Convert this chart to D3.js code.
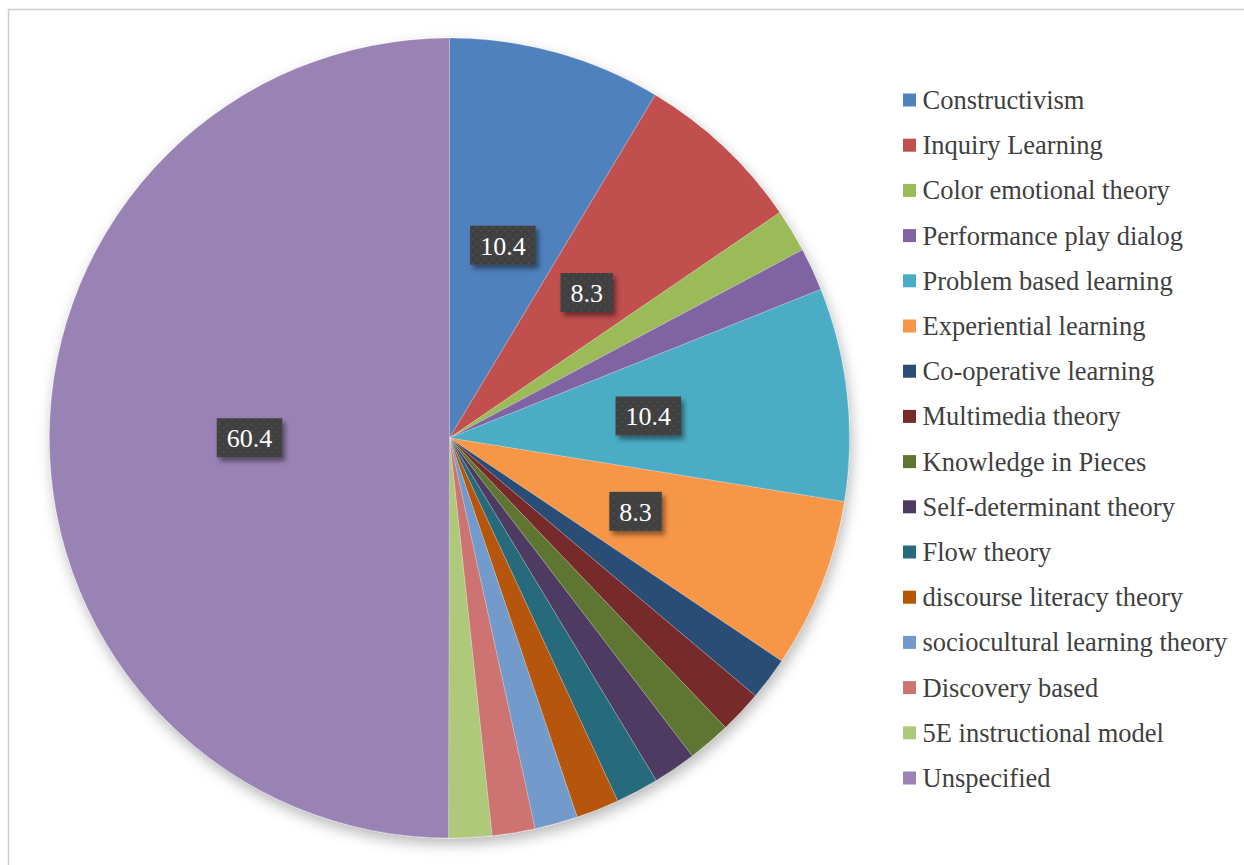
<!DOCTYPE html>
<html>
<head>
<meta charset="utf-8">
<script src="https://cdn.jsdelivr.net/npm/d3@7"></script>
<style>
  html, body { margin: 0; padding: 0; background: #ffffff; }
  svg { display: block; }
</style>
</head>
<body>
<svg id="chart" width="1244" height="865"></svg>
<script>
// Share of studies by underlying learning theory
const categories = [
  "Constructivism", "Inquiry Learning", "Color emotional theory", "Performance play dialog",
  "Problem based learning", "Experiential learning", "Co-operative learning", "Multimedia theory",
  "Knowledge in Pieces", "Self-determinant theory", "Flow theory", "discourse literacy theory",
  "sociocultural learning theory", "Discovery based", "5E instructional model", "Unspecified"
];
const values = [10.4, 8.3, 2.1, 2.1, 10.4, 8.3, 2.1, 2.1, 2.1, 2.1, 2.1, 2.1, 2.1, 2.1, 2.1, 60.4];
// Slices that carry a value label
const labelled = ["Constructivism", "Inquiry Learning", "Problem based learning", "Experiential learning", "Unspecified"];
const palette = [
  "#4F81BD", "#C0504D", "#9BBB59", "#8064A2", "#4BACC6", "#F79646",
  "#2C4D75", "#772C2A", "#5F7530", "#4D3B62", "#276A7C", "#B65708",
  "#729ACA", "#CD7371", "#AFC97A", "#9983B5"
];

const FONT = "Liberation Serif";

const svg = d3.select("#chart");
const W = 1244, H = 865;
const cx = 449.5, cy = 438, R = 400;

const defs = svg.append("defs");
// soft shadow under the pie
const pieShadow = defs.append("filter").attr("id", "pieShadow")
  .attr("x", "-10%").attr("y", "-10%").attr("width", "120%").attr("height", "125%");
pieShadow.append("feDropShadow")
  .attr("dx", 2).attr("dy", 6).attr("stdDeviation", 7)
  .attr("flood-color", "#000").attr("flood-opacity", 0.28);

// shadow for the value boxes
const boxShadow = defs.append("filter").attr("id", "boxShadow")
  .attr("x", "-30%").attr("y", "-30%").attr("width", "170%").attr("height", "180%");
boxShadow.append("feDropShadow")
  .attr("dx", 3).attr("dy", 4).attr("stdDeviation", 2.5)
  .attr("flood-color", "#000").attr("flood-opacity", 0.45);

// dotted texture of the value boxes
const pat = defs.append("pattern").attr("id", "dots")
  .attr("patternUnits", "userSpaceOnUse").attr("width", 8).attr("height", 8);
pat.append("rect").attr("width", 8).attr("height", 8).attr("fill", "#404040");
pat.append("circle").attr("cx", 2).attr("cy", 2).attr("r", 1.1).attr("fill", "#4e4e4e");
pat.append("circle").attr("cx", 6).attr("cy", 6).attr("r", 1.1).attr("fill", "#4a4a4a");

// chart frame
svg.append("rect")
  .attr("x", 8.5).attr("y", 9.5).attr("width", W + 20).attr("height", H + 20)
  .attr("fill", "#ffffff").attr("stroke", "#cfcfcf").attr("stroke-width", 1.5);

const data = categories.map((c, i) => ({ name: c, value: values[i] }));
const color = d3.scaleOrdinal().domain(categories).range(palette);

const pie = d3.pie().sort(null).value(d => d.value).startAngle(0).endAngle(2 * Math.PI);
const arcs = pie(data);
const arc = d3.arc().innerRadius(0).outerRadius(R);
const labelArc = d3.arc().innerRadius(R / 2).outerRadius(R / 2);

const g = svg.append("g").attr("transform", `translate(${cx},${cy})`);
g.append("g").attr("filter", "url(#pieShadow)")
  .selectAll("path").data(arcs).join("path")
  .attr("d", arc)
  .attr("fill", d => color(d.data.name))
  .attr("stroke", "#ffffff").attr("stroke-opacity", 0.35).attr("stroke-width", 0.6);

// value labels
const lab = g.selectAll("g.lab")
  .data(arcs.filter(d => labelled.includes(d.data.name)))
  .join("g").attr("class", "lab")
  .attr("transform", d => `translate(${labelArc.centroid(d)})`);

lab.each(function (d) {
  const el = d3.select(this);
  const txt = el.append("text")
    .attr("text-anchor", "middle").attr("y", 9.5)
    .style("font-family", FONT)
    .style("font-size", "26px").attr("fill", "#ffffff")
    .text(d3.format(".1f")(d.data.value));
  const w = txt.node().getComputedTextLength() + 20;
  el.insert("rect", "text")
    .attr("x", -w / 2).attr("y", -19.5).attr("width", w).attr("height", 39)
    .attr("fill", "url(#dots)").attr("filter", "url(#boxShadow)");
});

// legend
const legendY = d3.scalePoint().domain(categories).range([100, 778]);
const leg = svg.append("g").selectAll("g").data(categories).join("g")
  .attr("transform", d => `translate(903,${legendY(d)})`);
leg.append("rect").attr("x", 0).attr("y", -6.5).attr("width", 13).attr("height", 13)
  .attr("fill", d => color(d));
leg.append("text").attr("x", 19.5).attr("y", 9)
  .style("font-family", FONT)
  .style("font-size", "26.5px").attr("fill", "#404040")
  .text(d => d);
</script>
</body>
</html>
